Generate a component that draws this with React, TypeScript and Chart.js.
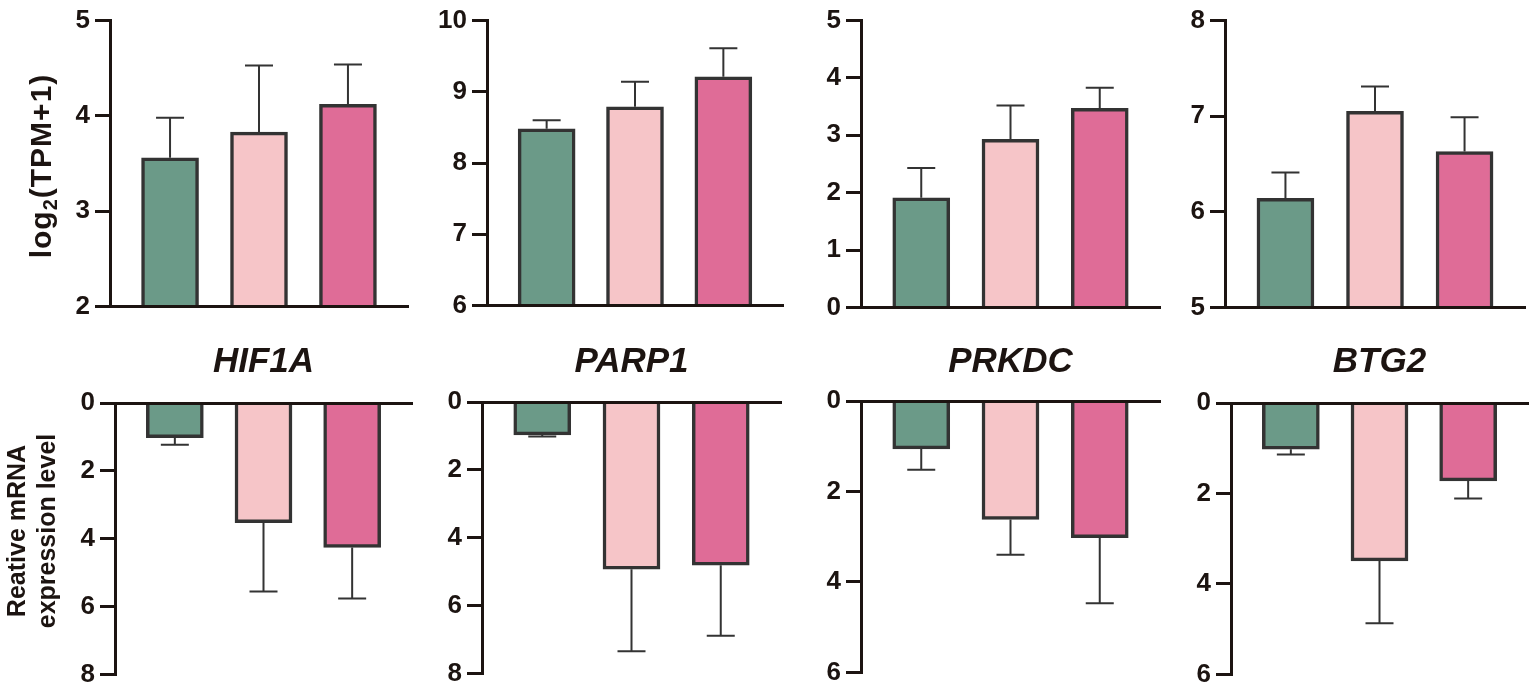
import { useEffect, useRef } from "react"
import { Chart, registerables } from "chart.js"

Chart.register(...registerables)

// ---- data ----
const genes = ["HIF1A", "PARP1", "PRKDC", "BTG2"]
const groupX = [0, 1, 2]

// top row: log2(TPM+1), mean and upper SD
const tpmMean = [
  [3.56, 3.83, 4.12],
  [8.48, 8.79, 9.21],
  [1.91, 2.93, 3.47],
  [6.14, 7.05, 6.63],
]
const tpmErr = [
  [0.42, 0.70, 0.42],
  [0.12, 0.35, 0.40],
  [0.52, 0.59, 0.36],
  [0.27, 0.26, 0.36],
]
const tpmMin = [2, 6, 0, 5]
const tpmMax = [5, 10, 5, 8]

// bottom row: relative mRNA expression level (axis pointing down)
const mrnaMean = [
  [1.02, 3.53, 4.26],
  [0.97, 4.93, 4.81],
  [1.06, 2.62, 3.02],
  [1.02, 3.49, 1.72],
]
const mrnaErr = [
  [0.21, 2.03, 1.5],
  [0.05, 2.42, 2.08],
  [0.46, 0.78, 1.45],
  [0.12, 1.38, 0.39],
]
const mrnaMax = [8, 8, 6, 6]

// ---- layout (pixels) ----
const topAxisX = [110, 487, 861, 1225]
const topRight = [408, 783, 1160, 1525]
const topAreaTop = [16, 15, 16, 18]
const topAreaBottom = [313, 312, 314, 314]

const botAxisX = [115, 482, 861, 1231]
const botRight = [412, 781, 1160, 1528]
const botAreaTop = [403, 402, 401, 403]
const botAreaBottom = [681, 680, 679, 681]

const FONT = "'Liberation Sans', Arial, Helvetica, sans-serif"
const AXIS = "#1c1411"
const EDGE = "#333333"
const FILLS = ["#6b9a88", "#f6c5c8", "#df6c97"]

const errorBars = {
  id: "errorBars",
  afterDatasetsDraw(chart: any) {
    const { ctx } = chart
    const yScale = chart.scales.y
    chart.data.datasets.forEach((ds: any, di: number) => {
      const meta = chart.getDatasetMeta(di)
      meta.data.forEach((bar: any, i: number) => {
        const yEnd = yScale.getPixelForValue(ds.data[i].y + ds.errors[i])
        ctx.save()
        ctx.strokeStyle = EDGE
        ctx.lineWidth = 2
        ctx.beginPath()
        ctx.moveTo(bar.x, bar.y)
        ctx.lineTo(bar.x, yEnd)
        ctx.moveTo(bar.x - 14, yEnd)
        ctx.lineTo(bar.x + 14, yEnd)
        ctx.stroke()
        ctx.restore()
      })
    })
  },
}

const panelText = {
  id: "panelText",
  afterDraw(chart: any, _args: any, opts: any) {
    const { ctx } = chart
    const offTop = opts.canvasTop || 0
    ctx.save()
    ctx.fillStyle = AXIS
    if (opts.title) {
      ctx.font = `italic bold 35px ${FONT}`
      ctx.textAlign = "center"
      ctx.textBaseline = "alphabetic"
      ctx.fillText(opts.title, chart.scales.x.getPixelForValue(1), 372 - offTop)
    }
    if (opts.yTitle === "tpm") {
      ctx.translate(51, 166 - offTop)
      ctx.rotate(-Math.PI / 2)
      ctx.textBaseline = "alphabetic"
      ctx.textAlign = "left"
      ;(ctx as any).letterSpacing = "1px"
      ctx.font = `bold 30px ${FONT}`
      const w1 = ctx.measureText("log").width
      const w3 = ctx.measureText("(TPM+1)").width
      ctx.font = `bold 20px ${FONT}`
      const w2 = ctx.measureText("2").width
      let x = -(w1 + w2 + w3) / 2
      ctx.font = `bold 30px ${FONT}`
      ctx.fillText("log", x, 0)
      x += w1
      ctx.font = `bold 20px ${FONT}`
      ctx.fillText("2", x, 6)
      x += w2
      ctx.font = `bold 30px ${FONT}`
      ctx.fillText("(TPM+1)", x, 0)
    }
    if (opts.yTitle === "mrna") {
      ctx.translate(0, 531 - offTop)
      ctx.rotate(-Math.PI / 2)
      ctx.textAlign = "center"
      ctx.textBaseline = "alphabetic"
      ctx.font = `bold 25px ${FONT}`
      ctx.fillText("Reative mRNA", 0, 25)
      ctx.fillText("expression level", 0, 55)
    }
    ctx.restore()
  },
}

type Spec = {
  left: number
  top: number
  width: number
  height: number
  yWidth: number
  padTop: number
  means: number[]
  errs: number[]
  min: number
  max: number
  step: number
  reverse: boolean
  title?: string
  yTitle?: string
}

function Panel({ spec }: { spec: Spec }) {
  const chartRef = useRef<HTMLCanvasElement>(null)
  const chartInstance = useRef<Chart | null>(null)

  useEffect(() => {
    if (!chartRef.current) return
    const ctx = chartRef.current.getContext("2d")
    if (!ctx) return
    if (chartInstance.current) chartInstance.current.destroy()

    chartInstance.current = new Chart(ctx, {
      type: "bar",
      data: {
        datasets: [
          {
            data: groupX.map((x, i) => ({ x, y: spec.means[i] })),
            errors: spec.errs,
            backgroundColor: FILLS,
            borderColor: EDGE,
            borderWidth: 3.5,
            borderSkipped: "start",
            barThickness: 57,
          } as any,
        ],
      },
      options: {
        responsive: false,
        animation: false,
        events: [],
        layout: { padding: { left: 0, right: 6, top: spec.padTop, bottom: 14 } },
        plugins: {
          legend: { display: false },
          tooltip: { enabled: false },
          panelText: { title: spec.title, yTitle: spec.yTitle, canvasTop: spec.top },
        } as any,
        scales: {
          x: {
            type: "linear",
            position: spec.reverse ? "top" : "bottom",
            min: -0.675,
            max: 2.675,
            offset: false,
            ticks: { display: false },
            grid: { display: false, drawTicks: false },
            border: { display: true, color: AXIS, width: 3, z: 1 },
            afterFit: (s: any) => {
              s.height = 0
            },
          },
          y: {
            min: spec.min,
            max: spec.max,
            reverse: spec.reverse,
            ticks: {
              stepSize: spec.step,
              padding: 5,
              color: AXIS,
              font: { family: FONT, size: 26, weight: "bold" },
            },
            grid: { drawOnChartArea: false, drawTicks: true, tickLength: 15, lineWidth: 3, color: AXIS },
            border: { display: true, color: AXIS, width: 3 },
            afterFit: (s: any) => {
              s.width = spec.yWidth
            },
          },
        } as any,
      },
      plugins: [errorBars, panelText],
    })

    return () => {
      if (chartInstance.current) {
        chartInstance.current.destroy()
        chartInstance.current = null
      }
    }
  }, [spec])

  return (
    <canvas
      ref={chartRef}
      width={spec.width}
      height={spec.height}
      style={{ position: "absolute", left: spec.left, top: spec.top, width: spec.width, height: spec.height }}
    />
  )
}

const specs: Spec[] = []
genes.forEach((g, i) => {
  const left = i === 0 ? 0 : topAxisX[i] - 70
  specs.push({
    left,
    top: 0,
    width: topRight[i] - left + 6,
    height: topAreaBottom[i] + 14,
    yWidth: topAxisX[i] - left,
    padTop: topAreaTop[i],
    means: tpmMean[i],
    errs: tpmErr[i],
    min: tpmMin[i],
    max: tpmMax[i],
    step: 1,
    reverse: false,
    yTitle: i === 0 ? "tpm" : undefined,
  })
})
genes.forEach((g, i) => {
  const left = i === 0 ? 0 : botAxisX[i] - 70
  const top = 334
  specs.push({
    left,
    top,
    width: botRight[i] - left + 6,
    height: botAreaBottom[i] - top + 14,
    yWidth: botAxisX[i] - left,
    padTop: botAreaTop[i] - top,
    means: mrnaMean[i],
    errs: mrnaErr[i],
    min: 0,
    max: mrnaMax[i],
    step: 2,
    reverse: true,
    title: g,
    yTitle: i === 0 ? "mrna" : undefined,
  })
})

export default function App() {
  return (
    <div style={{ position: "fixed", left: 0, top: 0, width: 1535, height: 697, background: "#ffffff", overflow: "hidden" }}>
      {specs.map((s, i) => (
        <Panel key={i} spec={s} />
      ))}
    </div>
  )
}
